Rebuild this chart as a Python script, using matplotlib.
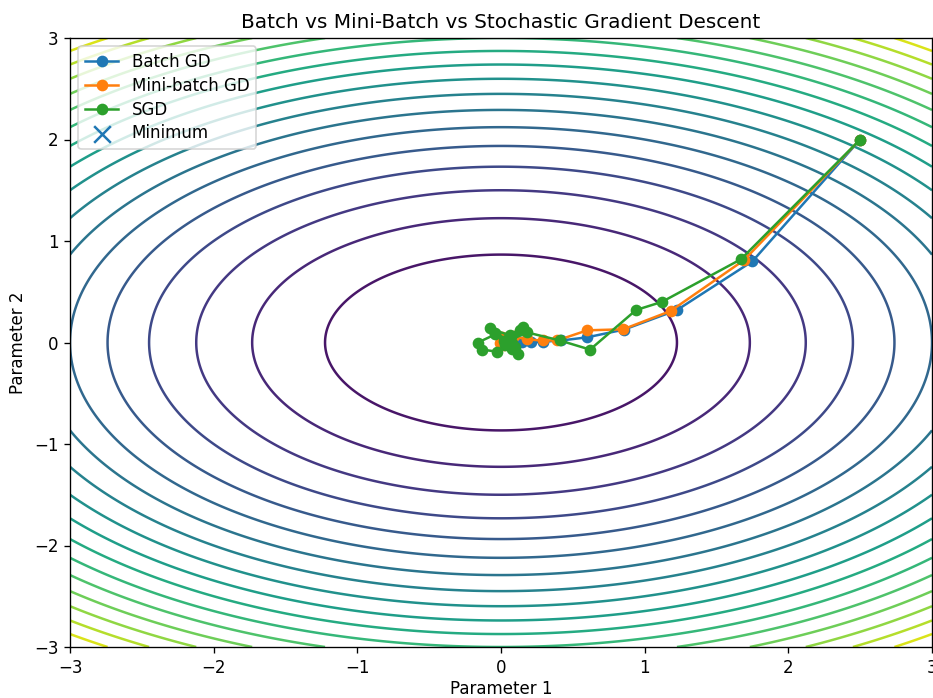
import numpy as np
import matplotlib
matplotlib.use("Agg")
import matplotlib.pyplot as plt

# Loss surface f(x, y) = a*x^2 + b*y^2
coef_x = 1.0
coef_y = 2.0
n_levels = 20

batch_x = [2.5, 1.75, 1.225, 0.858, 0.600, 0.420, 0.294, 0.206, 0.144, 0.101, 0.071,
           0.049, 0.035, 0.024, 0.017, 0.012, 0.008, 0.006, 0.004, 0.003, 0.002]
batch_y = [2.0, 0.80, 0.320, 0.128, 0.051, 0.020, 0.008, 0.003, 0.001, 0.0005, 0.0002,
           0.0, 0.0, 0.0, 0.0, 0.0, 0.0, 0.0, 0.0, 0.0, 0.0]

mini_x = [2.5, 1.69, 1.18, 0.85, 0.60, 0.39, 0.29, 0.18, 0.09, 0.01, -0.01, 0.04, 0.02,
          0.06, 0.00, 0.03, 0.01]
mini_y = [2.0, 0.81, 0.31, 0.13, 0.12, 0.02, 0.02, 0.03, 0.06, 0.05, 0.00, 0.02, -0.02,
          0.03, 0.01, 0.00, 0.02]

sgd_x = [2.5, 1.67, 1.12, 0.94, 0.62, 0.41, 0.18, 0.06, -0.04, -0.08, 0.06, 0.15, 0.08,
         -0.03, -0.13, -0.16, -0.04, 0.12, 0.08, 0.03, 0.13, 0.05, 0.10, 0.02]
sgd_y = [2.0, 0.82, 0.40, 0.32, -0.07, 0.02, 0.10, 0.02, 0.09, 0.14, 0.07, 0.15, 0.00,
         -0.09, -0.07, 0.00, 0.08, -0.11, -0.06, -0.02, 0.12, 0.03, -0.04, 0.01]

minimum = (0.0, 0.0)

DPI = 120
fig = plt.figure(figsize=(933 / DPI, 698 / DPI), dpi=DPI)
ax = fig.add_axes([70/933, 51/698, 862/933, 609/698])

gx = np.linspace(-3, 3, 400)
gy = np.linspace(-3, 3, 400)
X, Y = np.meshgrid(gx, gy)
Z = coef_x * X**2 + coef_y * Y**2
ax.contour(X, Y, Z, levels=n_levels, cmap='viridis')

ax.plot(batch_x, batch_y, 'o-', color='C0', label='Batch GD')
ax.plot(mini_x, mini_y, 'o-', color='C1', label='Mini-batch GD')
ax.plot(sgd_x, sgd_y, 'o-', color='C2', label='SGD')
ax.scatter([minimum[0]], [minimum[1]], marker='x', s=100, color='C0', label='Minimum', zorder=1)

ax.set_xlim(-3, 3)
ax.set_ylim(-3, 3)
ax.set_title('Batch vs Mini-Batch vs Stochastic Gradient Descent')
ax.set_xlabel('Parameter 1', labelpad=2)
ax.set_ylabel('Parameter 2')
ax.legend(loc='upper left', labelspacing=0.35)

fig.savefig('out.png', dpi=DPI)
